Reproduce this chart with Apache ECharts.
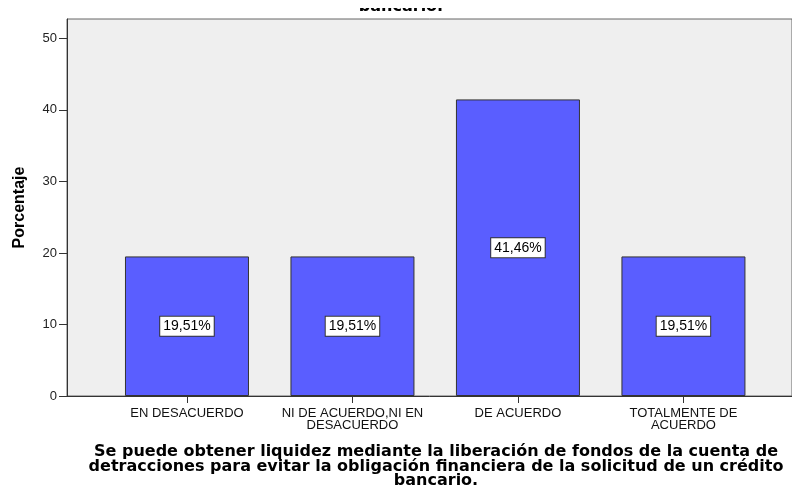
<!DOCTYPE html>
<html>
<head>
<meta charset="utf-8">
<script src="https://cdn.jsdelivr.net/npm/echarts@6/dist/echarts.min.js"></script>
<style>
  html, body { margin: 0; padding: 0; background: #fff; }
  #chart { width: 792px; height: 488px; }
</style>
</head>
<body>
<div id="chart"></div>
<script>
// categorias y porcentajes
const categories = ['EN DESACUERDO', 'NI DE ACUERDO,NI EN\nDESACUERDO', 'DE ACUERDO', 'TOTALMENTE DE\nACUERDO']
const percentages = [19.51, 19.51, 41.46, 19.51]
const yTicks = [0, 10, 20, 30, 40, 50]
const xTicks = [0, 1, 2, 3]

const xTitle = 'Se puede obtener liquidez mediante la liberación de fondos de la cuenta de\n' +
  'detracciones para evitar la obligación financiera de la solicitud de un crédito\n' +
  'bancario.'

const chart = echarts.init(document.getElementById('chart'))

chart.setOption({
  animation: false,
  // el titulo de arriba sale cortado en el original: solo se ve el final
  graphic: [{
    type: 'text',
    x: 401,
    y: 15,
    z: 1,
    style: {
      text: 'bancario.',
      fill: '#000',
      font: 'bold 16px "DejaVu Sans"',
      textAlign: 'center',
      textVerticalAlign: 'bottom'
    }
  }, {
    type: 'rect',
    shape: { x: 330, y: 0, width: 150, height: 8 },
    style: { fill: '#fff' },
    z: 2
  }],
  grid: {
    left: 67,
    top: 19,
    right: 0,
    bottom: 92,
    outerBoundsMode: 'none',
    show: true,
    backgroundColor: '#efefef',
    borderColor: '#666',
    borderWidth: 1
  },
  xAxis: {
    type: 'value',
    min: -0.725,
    max: 3.656,
    splitLine: { show: false },
    axisLine: { show: true, onZero: false, lineStyle: { color: '#333', width: 1 } },
    axisTick: { show: true, length: 7, customValues: xTicks, lineStyle: { color: '#333' } },
    axisLabel: {
      customValues: xTicks,
      formatter: v => categories[v],
      fontFamily: 'Liberation Sans',
      fontSize: 13,
      lineHeight: 12,
      color: '#111',
      margin: 11
    },
    name: xTitle,
    nameLocation: 'middle',
    nameGap: 49,
    nameTextStyle: {
      fontFamily: 'DejaVu Sans',
      fontWeight: 'bold',
      fontSize: 16,
      lineHeight: 14.5,
      color: '#000',
      align: 'center',
      padding: [0, 0, 0, 13]
    }
  },
  yAxis: {
    type: 'value',
    min: 0,
    max: 52.7,
    splitLine: { show: false },
    axisLine: { show: true, onZero: false, lineStyle: { color: '#333', width: 1 } },
    axisTick: { show: true, length: 8, customValues: yTicks, lineStyle: { color: '#333' } },
    axisLabel: {
      customValues: yTicks,
      fontFamily: 'Liberation Sans',
      fontSize: 13,
      color: '#222',
      margin: 10
    },
    name: 'Porcentaje',
    nameLocation: 'middle',
    nameGap: 39,
    nameTextStyle: { fontFamily: 'Liberation Sans', fontWeight: 'bold', fontSize: 16, color: '#000' }
  },
  series: [{
    type: 'bar',
    barWidth: 124,
    data: percentages.map((v, i) => [i, v]),
    itemStyle: { color: '#5a5eff', borderColor: '#333', borderWidth: 1 },
    label: {
      show: true,
      position: 'inside',
      formatter: p => p.value[1].toFixed(2).replace('.', ',') + '%',
      fontFamily: 'Liberation Sans',
      fontSize: 14,
      color: '#000',
      backgroundColor: '#fff',
      borderColor: '#333',
      borderWidth: 1,
      padding: [3, 3, 2, 3]
    }
  }]
})
</script>
</body>
</html>
